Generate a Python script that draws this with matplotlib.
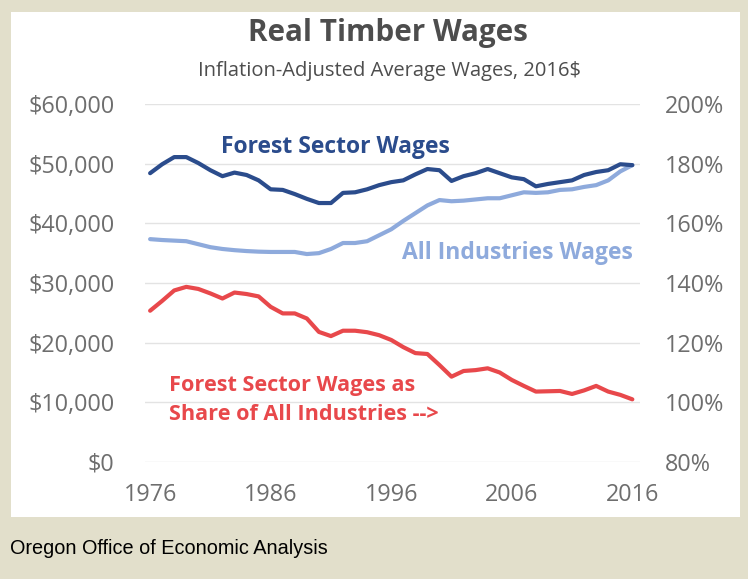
import numpy as np
import matplotlib.pyplot as plt
from matplotlib.patches import Rectangle
from matplotlib.ticker import FuncFormatter

# Data (2016 dollars / percent)
years = np.arange(1976, 2017)
forest_wages = [48400, 49900, 51100, 51100, 50100, 48900, 47900, 48500, 48100, 47200,
                45700, 45600, 44900, 44100, 43400, 43400, 45100, 45200, 45700, 46400,
                46900, 47200, 48200, 49100, 48900, 47100, 47900, 48400, 49100, 48400,
                47700, 47400, 46200, 46600, 46900, 47200, 48100, 48600, 48900, 49900,
                49750]
all_wages = [37350, 37200, 37100, 37000, 36500, 36000, 35700, 35500, 35350, 35250,
             35200, 35200, 35200, 34850, 35000, 35700, 36700, 36700, 37000, 38000,
             39000, 40400, 41700, 43000, 43900, 43700, 43800, 44000, 44200, 44200,
             44700, 45200, 45100, 45200, 45600, 45700, 46100, 46400, 47200, 48700,
             49750]
share_pct = [130.7, 134.0, 137.5, 138.7, 138.0, 136.5, 134.8, 136.8, 136.3, 135.5,
             132.0, 129.8, 129.8, 128.1, 123.6, 122.2, 124.0, 124.0, 123.5, 122.5,
             120.9, 118.5, 116.5, 116.2, 112.5, 108.6, 110.5, 110.8, 111.4, 110.0,
             107.5, 105.5, 103.6, 103.7, 103.8, 102.8, 104.0, 105.5, 103.6, 102.5,
             101.0]
left_ticks = [0, 10000, 20000, 30000, 40000, 50000, 60000]
right_ticks = [80, 100, 120, 140, 160, 180, 200]
x_ticks = [1976, 1986, 1996, 2006, 2016]

dark_blue = '#2b4c8c'
light_blue = '#8eaadc'
red = '#e8484b'
gray = '#6e6e6e'

plt.rcParams['font.family'] = ['Open Sans', 'DejaVu Sans']

fig = plt.figure(figsize=(7.48, 5.79), dpi=100, facecolor='#e2dfcb')
fig.patches.append(Rectangle((11 / 748, 62 / 579), 729 / 748, 505 / 579,
                             transform=fig.transFigure, facecolor='white',
                             edgecolor='none', zorder=-5))

ax = fig.add_axes([0.194, 0.2021, 0.662, 0.6183])
ax.set_facecolor('none')
ax2 = ax.twinx()

ax.plot(years, forest_wages, color=dark_blue, lw=3, solid_capstyle='round', zorder=3)
ax.plot(years, all_wages, color=light_blue, lw=3, solid_capstyle='round', zorder=2)
ax2.plot(years, share_pct, color=red, lw=3, solid_capstyle='round')

ax.set_xlim(1975.585, 2016.66)
ax.set_ylim(0, 60000)
ax2.set_ylim(80, 200)
ax.set_yticks(left_ticks)
ax2.set_yticks(right_ticks)
ax.set_xticks(x_ticks)
ax.yaxis.set_major_formatter(FuncFormatter(lambda v, p: '${:,.0f}'.format(v)))
ax2.yaxis.set_major_formatter(FuncFormatter(lambda v, p: '{:.0f}%'.format(v)))

ax.grid(axis='y', color='#e3e3e3', lw=1)
ax.set_axisbelow(True)
for a in (ax, ax2):
    for s in a.spines.values():
        s.set_visible(False)
ax.tick_params(axis='y', length=0, pad=22, labelsize=16.8, labelcolor=gray)
ax2.tick_params(axis='y', length=0, pad=18, labelsize=16.8, labelcolor=gray)
ax.tick_params(axis='x', length=0, pad=15, labelsize=16.8, labelcolor=gray)

fig.text(388 / 748, 1 - 33 / 579, 'Real Timber Wages', ha='center', va='center',
         fontsize=21.3, fontweight='bold', color='#4d4d4d')
fig.text(390 / 748, 1 - 71 / 579, 'Inflation-Adjusted Average Wages, 2016$',
         ha='center', va='center', fontsize=14.5, color='#4d4d4d')

fig.text(335 / 748, 1 - 147 / 579, 'Forest Sector Wages', ha='center', va='center',
         fontsize=16.5, fontweight='bold', color=dark_blue)
fig.text(517 / 748, 1 - 253 / 579, 'All Industries Wages', ha='center', va='center',
         fontsize=16.5, fontweight='bold', color=light_blue)
fig.text(169 / 748, 1 - 400 / 579, 'Forest Sector Wages as\nShare of All Industries -->',
         ha='left', va='center', fontsize=15.6, fontweight='bold', color=red,
         linespacing=1.45)

fig.text(10 / 748, 1 - 548 / 579, 'Oregon Office of Economic Analysis', ha='left',
         va='center', fontsize=14.3, color='black', family=['Liberation Sans'])

fig.savefig('out.png', dpi=100, facecolor=fig.get_facecolor())
